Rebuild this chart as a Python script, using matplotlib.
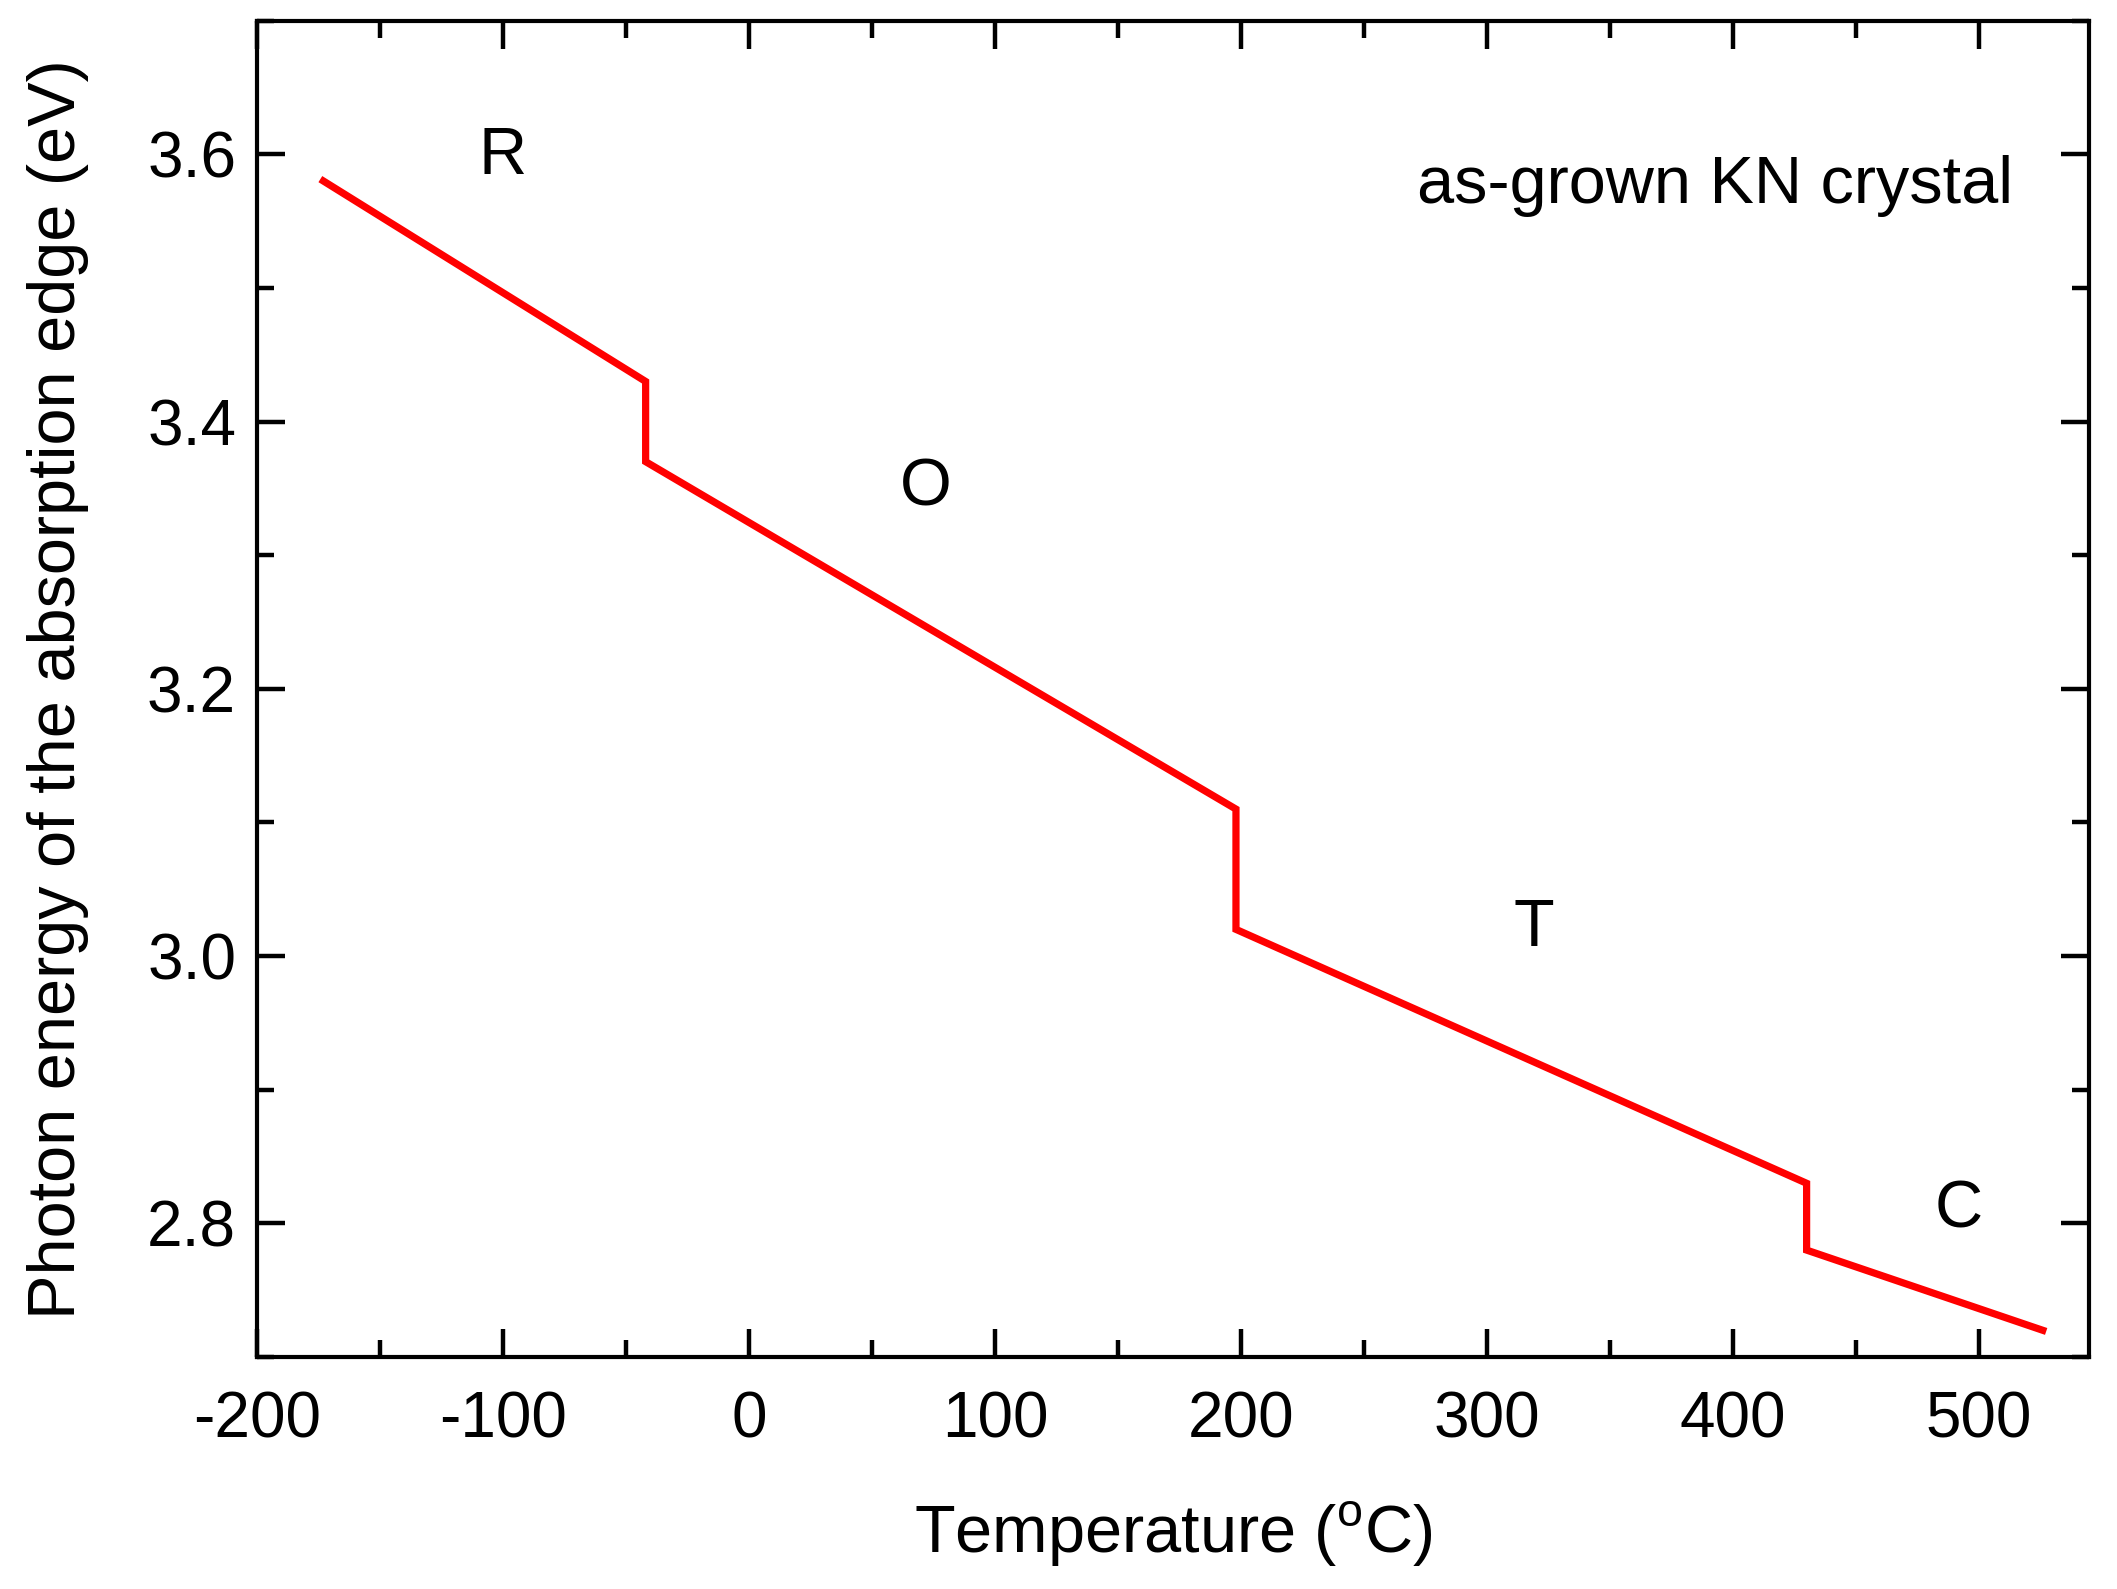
import matplotlib.pyplot as plt
from matplotlib.ticker import MultipleLocator

plt.rcParams['font.family'] = ['Liberation Sans', 'DejaVu Sans']
plt.rcParams['mathtext.fontset'] = 'custom'
plt.rcParams['mathtext.rm'] = 'Liberation Sans'
plt.rcParams['axes.unicode_minus'] = False

# absorption edge vs temperature
temperature = [-173, -42, -42, 198, 198, 430, 430, 526]
energy = [3.58, 3.43, 3.37, 3.11, 3.02, 2.83, 2.78, 2.72]

phase_names = ['R', 'O', 'T', 'C']
phase_x = [-100, 72, 319, 492]
phase_y = [3.598, 3.35, 3.02, 2.81]

fig = plt.figure(figsize=(21.17, 15.89), dpi=100)
ax = fig.add_axes([0.1214, 0.146, 0.8656, 0.841])

ax.plot(temperature, energy, color='#ff0000', lw=5.2, solid_joinstyle='miter')

for name, px, py in zip(phase_names, phase_x, phase_y):
    ax.text(px, py, name, fontsize=48, ha='center', va='center')

ax.text(514, 3.576, 'as-grown KN crystal', fontsize=48, ha='right', va='center')

ax.set_xlim(-200, 545)
ax.set_ylim(2.7, 3.7)
ax.xaxis.set_major_locator(MultipleLocator(100))
ax.xaxis.set_minor_locator(MultipleLocator(50))
ax.yaxis.set_major_locator(MultipleLocator(0.2))
ax.yaxis.set_minor_locator(MultipleLocator(0.1))

ax.tick_params(which='both', direction='in', top=True, right=True, width=3.2)
ax.tick_params(which='major', length=20, labelsize=46)
ax.tick_params(which='minor', length=12)
ax.tick_params(axis='x', which='major', pad=24)
ax.tick_params(axis='y', which='major', pad=15)
for s in ax.spines.values():
    s.set_linewidth(3.0)

ax.set_xlabel('Temperature ($^\\mathrm{o}$C)', fontsize=48, labelpad=36)
ax.set_ylabel('Photon energy of the absorption edge (eV)', fontsize=48, labelpad=42)

fig.savefig('out.png', dpi=100)
